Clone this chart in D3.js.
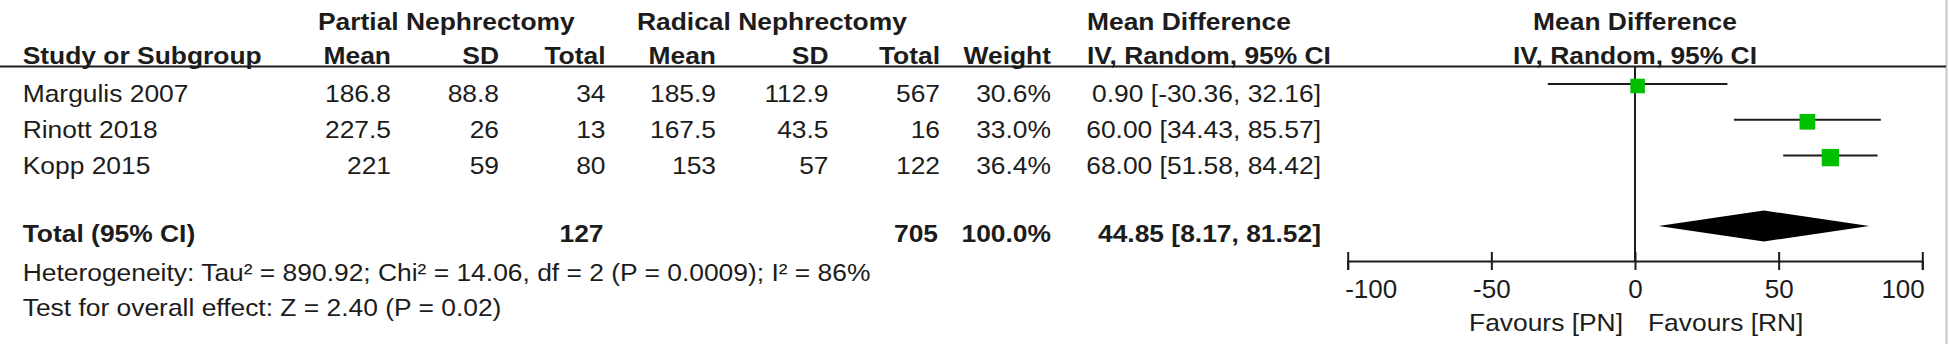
<!DOCTYPE html>
<html><head><meta charset="utf-8">
<script src="https://cdn.jsdelivr.net/npm/d3@7/dist/d3.min.js"></script>
<style>
html,body{margin:0;padding:0;background:#fff;}
svg{display:block;font-family:"Liberation Sans",Arial,sans-serif;}
</style></head>
<body>
<svg id="c" width="1949" height="344"></svg>
<script>
// ---- data ----
const studies = ["Margulis 2007", "Rinott 2018", "Kopp 2015"];
const pnMean = [186.8, 227.5, 221];
const pnSD = [88.8, 26, 59];
const pnTotal = [34, 13, 80];
const rnMean = [185.9, 167.5, 153];
const rnSD = [112.9, 43.5, 57];
const rnTotal = [567, 16, 122];
const weights = [30.6, 33.0, 36.4];
const mdEst = [0.90, 60.00, 68.00];
const mdLow = [-30.36, 34.43, 51.58];
const mdHigh = [32.16, 85.57, 84.42];
const totalLabel = "Total (95% CI)";
const pnTotalAll = 127;
const rnTotalAll = 705;
const weightAll = 100.0;
const pooledEst = 44.85, pooledLow = 8.17, pooledHigh = 81.52;
const tickValues = [-100, -50, 0, 50, 100];
const heterogeneity = "Heterogeneity: Tau\u00B2 = 890.92; Chi\u00B2 = 14.06, df = 2 (P = 0.0009); I\u00B2 = 86%";
const overallTest = "Test for overall effect: Z = 2.40 (P = 0.02)";
const favourLeft = "Favours [PN]", favourRight = "Favours [RN]";

// ---- layout ----
const svg = d3.select("#c");
const INK = "#1c1c1c";
const FS = 24, SX = 1.1;

const x = d3.scaleLinear().domain([-100, 100]).range([1347.7, 1922.3]);
const rowLine = d3.scaleLinear().domain([0, 2]).range([84, 155.6]);
const rowBase = i => rowLine(i) + 17.9;
const totalLineY = 226, totalBase = 242;
const axisY = 261;

function txt(xp, yp, s, anchor, bold, size, sx) {
  svg.append("text")
    .attr("transform", `translate(${xp},${yp}) scale(${sx == null ? SX : sx},1)`)
    .attr("text-anchor", anchor || "start")
    .attr("font-size", size || FS)
    .attr("font-weight", bold ? "bold" : "normal")
    .attr("fill", INK)
    .text(s);
}

const hy = s => s.replace(/\u2212/g, "-");
const f2 = v => hy(d3.format(".2f")(v)), f1 = v => hy(d3.format(".1f")(v));

// columns (right anchors)
const col = {study: 22.7, pnMean: 391, pnSD: 499, pnTotal: 605.5,
             rnMean: 716, rnSD: 828.5, rnTotal: 940, weight: 1051, md: 1321, mdLeft: 1087};

// right border
svg.append("line").attr("x1", 1946.5).attr("x2", 1946.5).attr("y1", 0).attr("y2", 344)
  .attr("stroke", "#c8c8c8").attr("stroke-width", 2);

// headers
txt(318, 29.5, "Partial Nephrectomy", "start", true);
txt(637, 29.5, "Radical Nephrectomy", "start", true);
txt(col.mdLeft, 29.5, "Mean Difference", "start", true);
txt(x(0), 29.5, "Mean Difference", "middle", true);
const hY = 63.5;
txt(col.study, hY, "Study or Subgroup", "start", true);
txt(col.pnMean, hY, "Mean", "end", true);
txt(col.pnSD, hY, "SD", "end", true);
txt(col.pnTotal, hY, "Total", "end", true);
txt(col.rnMean, hY, "Mean", "end", true);
txt(col.rnSD, hY, "SD", "end", true);
txt(col.rnTotal, hY, "Total", "end", true);
txt(col.weight, hY, "Weight", "end", true);
txt(col.mdLeft, hY, "IV, Random, 95% CI", "start", true);
txt(x(0), hY, "IV, Random, 95% CI", "middle", true);

// header rule
svg.append("line").attr("x1", 0).attr("x2", 1946).attr("y1", 66.5).attr("y2", 66.5)
  .attr("stroke", INK).attr("stroke-width", 2);

// zero line
svg.append("line").attr("x1", x(0)).attr("x2", x(0)).attr("y1", 66.5).attr("y2", axisY)
  .attr("stroke", INK).attr("stroke-width", 2);

studies.forEach((s, i) => {
  const yb = rowBase(i);
  txt(col.study, yb, s, "start");
  txt(col.pnMean, yb, String(pnMean[i]), "end");
  txt(col.pnSD, yb, String(pnSD[i]), "end");
  txt(col.pnTotal, yb, String(pnTotal[i]), "end");
  txt(col.rnMean, yb, String(rnMean[i]), "end");
  txt(col.rnSD, yb, String(rnSD[i]), "end");
  txt(col.rnTotal, yb, String(rnTotal[i]), "end");
  txt(col.weight, yb, f1(weights[i]) + "%", "end");
  txt(col.md, yb, `${f2(mdEst[i])} [${f2(mdLow[i])}, ${f2(mdHigh[i])}]`, "end");

  const yl = rowLine(i);
  svg.append("line").attr("x1", x(mdLow[i])).attr("x2", x(mdHigh[i]))
    .attr("y1", yl).attr("y2", yl).attr("stroke", INK).attr("stroke-width", 2);
  const sz = weights[i] * 0.475;
  svg.append("rect").attr("x", x(mdEst[i]) - sz / 2).attr("y", yl + 2 - sz / 2)
    .attr("width", sz).attr("height", sz).attr("fill", "#00c000");
});

// total row
txt(col.study, totalBase, totalLabel, "start", true);
txt(col.pnTotal - 2, totalBase, String(pnTotalAll), "end", true);
txt(col.rnTotal - 2, totalBase, String(rnTotalAll), "end", true);
txt(col.weight, totalBase, f1(weightAll) + "%", "end", true);
txt(col.md, totalBase, `${f2(pooledEst)} [${f2(pooledLow)}, ${f2(pooledHigh)}]`, "end", true);

const dh = 15.5;
svg.append("path")
  .attr("d", `M${x(pooledLow)},${totalLineY} L${x(pooledEst)},${totalLineY - dh} L${x(pooledHigh)},${totalLineY} L${x(pooledEst)},${totalLineY + dh} Z`)
  .attr("fill", "#000");

// footnotes
txt(col.study, 281, heterogeneity, "start");
txt(col.study, 316, overallTest, "start");

// axis
const ax = svg.append("g").attr("transform", `translate(0,${axisY})`)
  .call(d3.axisBottom(x).tickValues(tickValues).tickSizeOuter(0).tickSize(9)
    .tickFormat(d => hy(d3.format("d")(d))));
ax.select(".domain").attr("stroke", INK).attr("stroke-width", 2);
ax.selectAll(".tick line").attr("y1", -9).attr("y2", 9).attr("stroke", INK).attr("stroke-width", 2);
const nT = tickValues.length;
ax.selectAll(".tick text").attr("y", 37.3).attr("dy", 0)
  .attr("font-size", 26).attr("font-family", "Liberation Sans, Arial, sans-serif").attr("fill", INK)
  .attr("text-anchor", (d, i) => i === 0 ? "start" : (i === nT - 1 ? "end" : "middle"))
  .attr("dx", (d, i) => i === 0 ? -3 : (i === nT - 1 ? 2 : 0));

txt(x(0) - 12, 330.7, favourLeft, "end");
txt(x(0) + 13, 330.7, favourRight, "start");
</script>
</body></html>
